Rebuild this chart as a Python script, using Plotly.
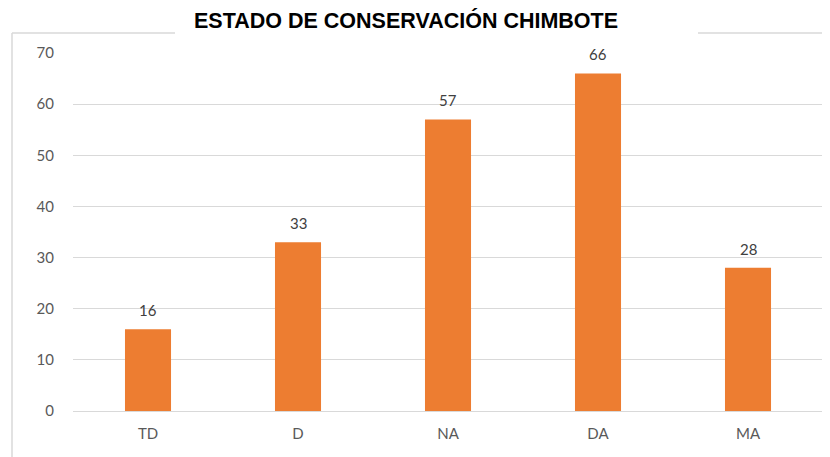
import plotly.graph_objects as go

categories = ["TD", "D", "NA", "DA", "MA"]
values = [16, 33, 57, 66, 28]
y_ticks = [0, 10, 20, 30, 40, 50, 60, 70]
title_text = "ESTADO DE CONSERVACIÓN CHIMBOTE"

# page body has an 8px margin; compensate so the plot lands where the reference has it
OFF = 8
W, H = 830 - OFF, 457 - OFF
ML, MT = 73 - OFF, 53 - OFF
PW, PH = 750, 358
MR = W - ML - PW
MB = H - MT - PH

def px_x(px):
    return (px - OFF - ML) / PW

def px_y(py):
    return (MT + PH - (py - OFF)) / PH

fig = go.Figure(
    go.Bar(
        x=categories,
        y=values,
        marker=dict(color="#ED7D31", line=dict(width=0)),
        width=0.307,
    )
)

label_font = dict(family="Lato, Open Sans, sans-serif", size=15, color="#404040")
annotations = [
    dict(x=c, y=v, text=str(v), xref="x", yref="y", showarrow=False,
         yanchor="bottom", yshift=8, font=label_font)
    for c, v in zip(categories, values)
]
annotations.append(
    dict(
        text="<b>" + title_text + "</b>",
        xref="paper", yref="paper",
        x=px_x(406), y=px_y(20),
        xanchor="center", yanchor="middle",
        showarrow=False,
        font=dict(family="Liberation Sans, Arial, sans-serif", size=21.5, color="#000000"),
    )
)

border = dict(color="#d9d9d9", width=1.5)
shapes = [
    dict(type="line", xref="paper", yref="paper", x0=px_x(12), x1=px_x(12), y0=px_y(33), y1=px_y(470), line=border),
    dict(type="line", xref="paper", yref="paper", x0=px_x(12), x1=px_x(175), y0=px_y(33), y1=px_y(33), line=border),
    dict(type="line", xref="paper", yref="paper", x0=px_x(698), x1=px_x(840), y0=px_y(33), y1=px_y(33), line=border),
]

fig.update_layout(
    width=W,
    height=H,
    margin=dict(l=ML, r=MR, t=MT, b=MB),
    paper_bgcolor="white",
    plot_bgcolor="white",
    showlegend=False,
    shapes=shapes,
    annotations=annotations,
    xaxis=dict(
        showgrid=False,
        showline=False,
        ticks="",
        ticklabelstandoff=12,
        tickfont=dict(family="Lato, Open Sans, sans-serif", size=15, color="#595959"),
    ),
    yaxis=dict(
        range=[0, 70],
        tickvals=y_ticks,
        showgrid=True,
        gridcolor="#d9d9d9",
        gridwidth=1,
        zeroline=True,
        zerolinecolor="#d9d9d9",
        zerolinewidth=1,
        showline=False,
        ticks="",
        ticklabelstandoff=18,
        tickfont=dict(family="Lato, Open Sans, sans-serif", size=15, color="#595959"),
    ),
)

fig.write_html("out.html")
